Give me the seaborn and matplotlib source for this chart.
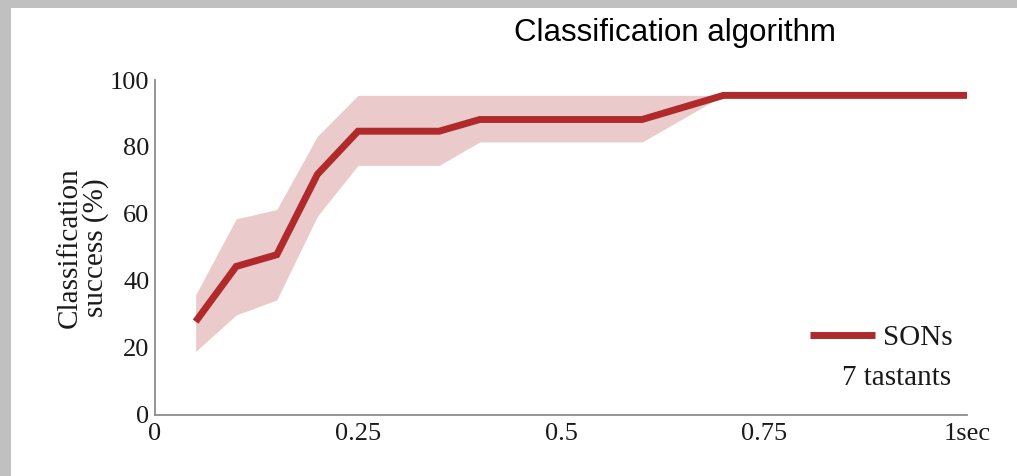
import numpy as np
import pandas as pd
import matplotlib
matplotlib.use("Agg")
import matplotlib.pyplot as plt
import seaborn as sns
from matplotlib.patches import Rectangle
from matplotlib.lines import Line2D

# ---- data ----
time_sec = [0.05, 0.10, 0.15, 0.20, 0.25, 0.35, 0.40, 0.60, 0.70, 1.00]
success_mean = [27.8, 44.3, 47.8, 71.8, 84.7, 84.7, 88.2, 88.2, 95.4, 95.4]
success_upper = [35.8, 58.5, 61.3, 83.2, 95.4, 95.4, 95.4, 95.4, 95.4, 95.4]
success_lower = [18.9, 29.8, 34.3, 59.3, 74.5, 74.5, 81.5, 81.5, 95.4, 95.4]
x_ticks = [0, 0.25, 0.5, 0.75, 1.0]
x_ticklabels = ["0", "0.25", "0.5", "0.75", "1sec"]
y_ticks = [0, 20, 40, 60, 80, 100]
series_name = "SONs"
note = "7 tastants"
title = "Classification algorithm"

df = pd.DataFrame({"time": time_sec, "success": success_mean,
                   "lo": success_lower, "hi": success_upper})

sns.set_theme(style="white")
plt.rcParams["font.family"] = ["Liberation Serif", "DejaVu Serif"]

line_color = "#B02A2B"
band_color = "#EACACA"
spine_color = "#8C8C8C"
text_color = "#1A1A1A"

fig = plt.figure(figsize=(10.17, 4.76), dpi=100)
fig.patch.set_facecolor("#C0C0C0")
fig.patches.append(Rectangle((11 / 1017, 0), 1 - 11 / 1017, 1 - 8 / 476,
                             transform=fig.transFigure, facecolor="white",
                             edgecolor="none", zorder=-10))

ax = fig.add_axes([155 / 1017, 1 - 414.7 / 476, (967 - 155) / 1017, (414.7 - 80) / 476])
ax.set_facecolor("none")

ax.fill_between(df["time"], df["lo"], df["hi"], color=band_color, linewidth=0, zorder=1)
sns.lineplot(data=df, x="time", y="success", ax=ax, color=line_color,
             linewidth=5, zorder=2, legend=False)
for ln in ax.get_lines():
    ln.set_solid_capstyle("butt")
    ln.set_solid_joinstyle("miter")

ax.set_xlim(0, 1)
ax.set_ylim(0, 100)
ax.set_xticks(x_ticks)
ax.set_xticklabels(x_ticklabels)
ax.set_yticks(y_ticks)
ax.set_xlabel("")
ax.set_ylabel("Classification\nsuccess (%)", fontsize=21, linespacing=0.95,
              labelpad=1, color=text_color)

for s in ["top", "right"]:
    ax.spines[s].set_visible(False)
for s in ["left", "bottom"]:
    ax.spines[s].set_color(spine_color)
    ax.spines[s].set_linewidth(1.3)

ax.tick_params(axis="both", direction="in", length=4, width=1.0, color=spine_color,
               labelsize=19, labelcolor=text_color)
ax.tick_params(axis="x", pad=6)
ax.tick_params(axis="y", pad=4)

handle = Line2D([0], [0], color=line_color, linewidth=5, solid_capstyle="butt")
leg = ax.legend([handle], [series_name], loc="lower right", bbox_to_anchor=(0.997, 0.155),
                frameon=False, fontsize=21, handlelength=2.2, handletextpad=0.3,
                borderaxespad=0)
for t in leg.get_texts():
    t.set_color(text_color)
ax.text(0.98, 0.11, note, transform=ax.transAxes, ha="right", va="center",
        fontsize=21, color=text_color)

fig.text(675 / 1017, 1 - 33 / 476, title, ha="center", va="center",
         fontsize=22.5, family=["Liberation Sans", "DejaVu Sans"], color="black")

fig.savefig("out.png", dpi=100, facecolor=fig.get_facecolor())
